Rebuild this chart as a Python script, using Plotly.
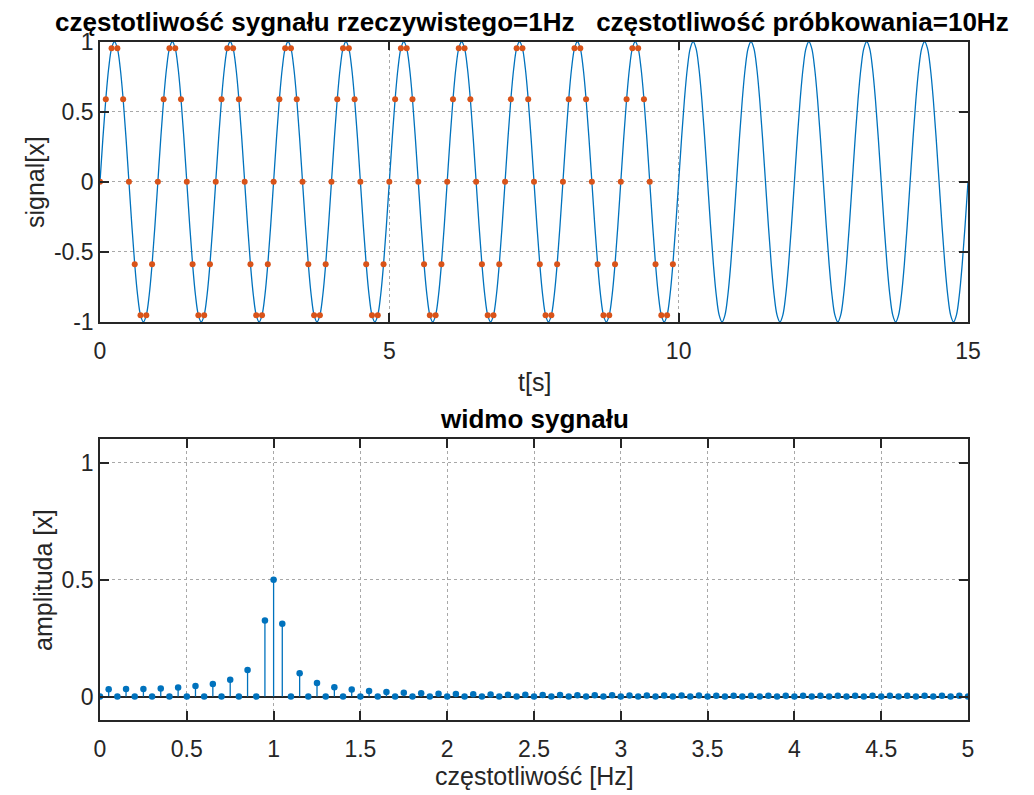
import numpy as np
import plotly.graph_objects as go

# ---------------- data ----------------
f_signal = 1      # Hz
f_sampling = 10   # Hz

# one period of the continuous 1 Hz signal, read every 0.05 s
curve_period = [0, 0.309, 0.588, 0.809, 0.951, 1.0, 0.951, 0.809, 0.588, 0.309,
                0, -0.309, -0.588, -0.809, -0.951, -1.0, -0.951, -0.809, -0.588, -0.309]
curve_step = 0.05
curve_periods = 15

sample_period = [0, 0.588, 0.951, 0.951, 0.588, 0, -0.588, -0.951, -0.951, -0.588]
sample_step = 0.1
sample_periods = 10

# spectrum amplitudes, every 0.05 Hz from 0 to 5 Hz
spectrum_amp = [
    0, 0.031, 0, 0.032, 0, 0.033, 0, 0.035, 0, 0.039,
    0, 0.045, 0, 0.054, 0, 0.072, 0, 0.114, 0, 0.325,
    0.5, 0.312, 0, 0.100, 0, 0.058, 0, 0.040, 0, 0.030,
    0, 0.024, 0, 0.020, 0, 0.017, 0, 0.014, 0, 0.0125,
    0, 0.011, 0, 0.010, 0, 0.009, 0, 0.0082, 0, 0.0076,
    0, 0.0070, 0, 0.0065, 0, 0.0061, 0, 0.0057, 0, 0.0054,
    0, 0.0051, 0, 0.0049, 0, 0.0047, 0, 0.0045, 0, 0.0043,
    0, 0.0041, 0, 0.0040, 0, 0.0039, 0, 0.0038, 0, 0.0037,
    0, 0.0036, 0, 0.0035, 0, 0.0035, 0, 0.0034, 0, 0.0034,
    0, 0.0033, 0, 0.0033, 0, 0.0033, 0, 0.0033, 0, 0.0033,
    0]
freq_step = 0.05

x_ticks_top = [0, 5, 10, 15]
x_labels_top = ['0', '5', '10', '15']
y_ticks_top = [-1, -0.5, 0, 0.5, 1]
y_labels_top = ['-1', '-0.5', '0', '0.5', '1']
x_ticks_bot = [0, 0.5, 1, 1.5, 2, 2.5, 3, 3.5, 4, 4.5, 5]
x_labels_bot = ['0', '0.5', '1', '1.5', '2', '2.5', '3', '3.5', '4', '4.5', '5']
y_ticks_bot = [0, 0.5, 1]
y_labels_bot = ['0', '0.5', '1']

title_top = ("częstotliwość sygnału rzeczywistego=%dHz\u00a0\u00a0\u00a0częstotliwość próbkowania=%dHz"
             % (f_signal, f_sampling))
title_bot = "widmo sygnału"
xlabel_top = "t[s]"
ylabel_top = "signal[x]"
xlabel_bot = "częstotliwość [Hz]"
ylabel_bot = "amplituda [x]"

# ---------------- derived arrays ----------------
curve_y = curve_period * curve_periods + [curve_period[0]]
curve_t = np.arange(len(curve_y)) * curve_step
samp_y = sample_period * sample_periods
samp_t = np.arange(len(samp_y)) * sample_step
freqs = np.arange(len(spectrum_amp)) * freq_step

BLUE = '#0072BD'
ORANGE = '#D95319'
AX = '#262626'
GRID = '#a8a8a8'
FONT = 'Liberation Sans, Arial, Helvetica, sans-serif'

W, H = 1034, 795
def px(x): return x / W
def py(y): return 1 - y / H

fig = go.Figure()
fig.add_trace(go.Scatter(x=curve_t, y=curve_y, mode='lines', line=dict(color=BLUE, width=1.3, shape='spline'),
                         xaxis='x', yaxis='y', showlegend=False, hoverinfo='skip'))
fig.add_trace(go.Scatter(x=samp_t, y=samp_y, mode='markers', marker=dict(color=ORANGE, size=6),
                         xaxis='x', yaxis='y', showlegend=False))
fig.add_trace(go.Scatter(x=freqs, y=spectrum_amp, mode='markers',
                         marker=dict(color=BLUE, size=6.5),
                         error_y=dict(type='data', symmetric=False, array=[0] * len(spectrum_amp),
                                      arrayminus=spectrum_amp, width=0, thickness=1.3, color=BLUE),
                         xaxis='x2', yaxis='y2', showlegend=False))

common = dict(showline=True, linecolor=AX, linewidth=1.6, mirror='ticks', ticks='inside', ticklen=9,
              tickwidth=1.6, tickcolor=AX, showgrid=True, gridcolor=GRID, griddash='dot', gridwidth=1,
              zeroline=False, tickfont=dict(family=FONT, size=23, color=AX), fixedrange=True,
              automargin=False)

xdom = [px(100), px(968)]
fig.update_layout(
    width=W, height=H, margin=dict(l=0, r=0, t=0, b=0, autoexpand=False),
    paper_bgcolor='white', plot_bgcolor='white',
    xaxis=dict(domain=xdom, range=[0, 15], tickvals=x_ticks_top, ticktext=x_labels_top,
               anchor='y', ticklabelstandoff=8, **common),
    yaxis=dict(domain=[py(322), py(41.5)], range=[-1, 1], tickvals=y_ticks_top, ticktext=y_labels_top,
               anchor='x', **common),
    xaxis2=dict(domain=xdom, range=[0, 5], tickvals=x_ticks_bot, ticktext=x_labels_bot,
                anchor='y2', ticklabelstandoff=8, **common),
    yaxis2=dict(domain=[py(720), py(439.3)], range=[-0.1, 1.1], tickvals=y_ticks_bot, ticktext=y_labels_bot,
                anchor='x2', **{**common, 'zeroline': True}, zerolinecolor=AX, zerolinewidth=1.6),
)

ann = []
ann.append(dict(text='<b>%s</b>' % title_top, x=px(532), y=py(22), xref='paper', yref='paper',
                showarrow=False, xanchor='center', yanchor='middle',
                font=dict(family=FONT, size=26, color='black')))
ann.append(dict(text='<b>%s</b>' % title_bot, x=px(534), y=py(419), xref='paper', yref='paper',
                showarrow=False, xanchor='center', yanchor='middle',
                font=dict(family=FONT, size=26, color='black')))
ann.append(dict(text=xlabel_top, x=px(534), y=py(382), xref='paper', yref='paper',
                showarrow=False, xanchor='center', yanchor='middle',
                font=dict(family=FONT, size=25, color=AX)))
ann.append(dict(text=xlabel_bot, x=px(534), y=py(776), xref='paper', yref='paper',
                showarrow=False, xanchor='center', yanchor='middle',
                font=dict(family=FONT, size=25, color=AX)))
ann.append(dict(text=ylabel_top, x=px(35), y=py(182), xref='paper', yref='paper', textangle=-90,
                showarrow=False, xanchor='center', yanchor='middle',
                font=dict(family=FONT, size=25, color=AX)))
ann.append(dict(text=ylabel_bot, x=px(43), y=py(580), xref='paper', yref='paper', textangle=-90,
                showarrow=False, xanchor='center', yanchor='middle',
                font=dict(family=FONT, size=25, color=AX)))
fig.update_layout(annotations=ann)

fig.write_html("out.html")
